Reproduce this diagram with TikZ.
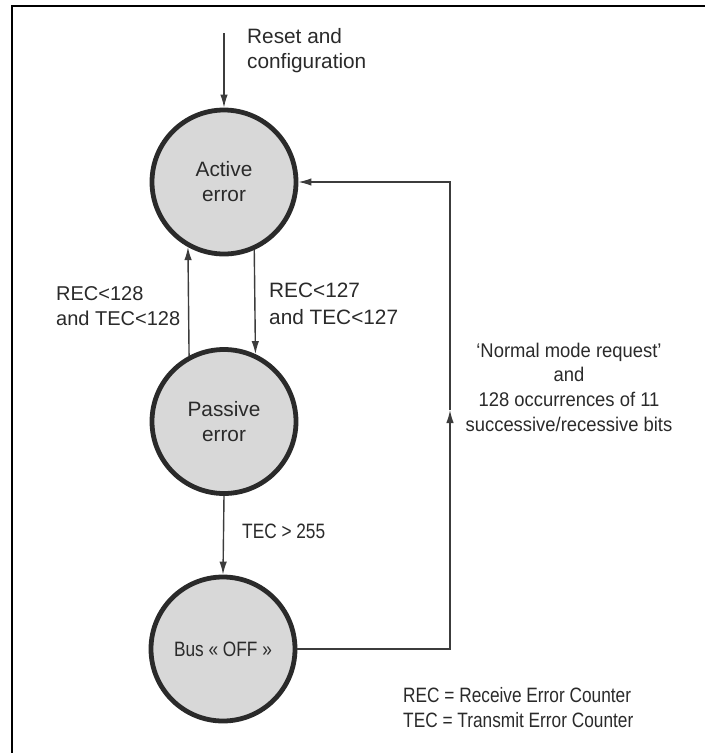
\documentclass[tikz,border=0pt]{standalone}
\usepackage{fontspec}
\setmainfont{Liberation Sans}
\newfontfamily\narrowfont[FakeStretch=0.83]{Liberation Sans}
\newfontfamily\semifont[FakeStretch=0.93]{Liberation Sans}
\usetikzlibrary{arrows.meta}

\definecolor{ink}{HTML}{2A2A2A}
\definecolor{wire}{HTML}{3C3C3C}
\definecolor{statefill}{HTML}{D8D8D8}

\begin{document}
\begin{tikzpicture}[x=1pt,y=-1pt,
  state/.style={circle,draw=ink,line width=4.8pt,fill=statefill,
    minimum size=144pt,inner sep=0pt,align=center,text=ink,
    font=\fontsize{20.8}{25}\selectfont},
  link/.style={draw=wire,line width=1.4pt,-{Latex[length=13pt,width=7.5pt]}},
  lbl/.style={inner sep=0pt,text=ink,font=\fontsize{20.8}{25}\selectfont},
  frame/.style={line width=2pt,black,line join=miter}]

\useasboundingbox (0,0) rectangle (705,753);

% outer frame (left and top edges)
\draw[frame] (11.5,753) -- (11.5,6) -- (705,6);

% states
\node[state] (active) at (224,182) {Active\\error};
\node[state] (passive) at (224,421.5) {Passive\\error};
\node[state,font=\narrowfont\fontsize{20.8}{25}\selectfont] (bus) at (223,649) {Bus « OFF »};

% transitions
\coordinate (reset) at (224,33);
\draw[link] (reset) -- (active.north);
\draw[link] (passive.118.1) -- (active.241.9);
\draw[link] (active.294.7) -- (passive.65.3);
\draw[link] (passive.south) -- (bus.north);
\coordinate (ret) at (450,410);
\draw[link] (bus.east) -| (ret);
\draw[link] (ret) |- (active.east);

% transition labels
\node[lbl,anchor=west,align=left] (resetlbl) at (247,51) {Reset and\\configuration};
\node[lbl,anchor=west,align=left,font=\fontsize{20}{25}\selectfont] (uplbl) at (56,306) {REC<128\\and TEC<128};
\node[lbl,anchor=west,align=left,font=\fontsize{20.8}{27}\selectfont] (downlbl) at (269,304) {REC<127\\and TEC<127};
\node[lbl,anchor=base west,font=\narrowfont\fontsize{20.8}{25}\selectfont] (offlbl) at (242,538) {TEC > 255};
\node[lbl,align=center,font=\semifont\fontsize{19.8}{24.7}\selectfont] (retlbl) at (569,387)
  {‘Normal mode request’\\and\\128 occurrences of 11\\successive/recessive bits};

% legend
\node[lbl,anchor=west,align=left,font=\narrowfont\fontsize{20.8}{25}\selectfont] (legend) at (403,708)
  {REC = Receive Error Counter\\TEC = Transmit Error Counter};
\end{tikzpicture}
\end{document}
